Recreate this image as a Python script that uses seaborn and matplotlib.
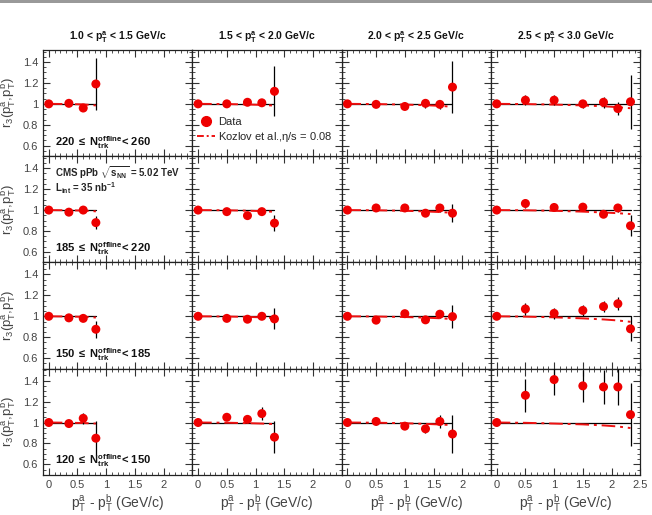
import numpy as np
import pandas as pd
import matplotlib
matplotlib.use("Agg")
import matplotlib.pyplot as plt
from matplotlib.ticker import MultipleLocator
from matplotlib.lines import Line2D
import seaborn as sns

# pT^a bins (columns) and Ntrk classes (rows, top to bottom)
col_titles = [r"1.0 < p$_\mathbf{T}^\mathbf{a}$ < 1.5 GeV/c",
              r"1.5 < p$_\mathbf{T}^\mathbf{a}$ < 2.0 GeV/c",
              r"2.0 < p$_\mathbf{T}^\mathbf{a}$ < 2.5 GeV/c",
              r"2.5 < p$_\mathbf{T}^\mathbf{a}$ < 3.0 GeV/c"]
row_labels = [r"$\mathbf{220\ \leq\ N_{trk}^{offline}}$< 260",
              r"$\mathbf{185\ \leq\ N_{trk}^{offline}}$< 220",
              r"$\mathbf{150\ \leq\ N_{trk}^{offline}}$< 185",
              r"$\mathbf{120\ \leq\ N_{trk}^{offline}}$< 150"]

# pT^a - pT^b for each column
x_cols = [
    [0, 0.35, 0.6, 0.82],
    [0, 0.5, 0.86, 1.11, 1.33],
    [0, 0.5, 1.0, 1.36, 1.61, 1.83],
    [0, 0.5, 1.0, 1.5, 1.86, 2.11, 2.33],
]

# r3 data [row][col]
r3 = [
    [[1.0, 1.005, 0.96, 1.19],
     [1.0, 1.0, 1.015, 1.01, 1.12],
     [1.0, 0.995, 0.975, 1.005, 0.995, 1.16],
     [1.0, 1.035, 1.035, 1.0, 1.015, 0.955, 1.02]],
    [[1.0, 0.98, 1.0, 0.88],
     [1.0, 0.985, 0.947, 0.985, 0.875],
     [1.0, 1.02, 1.02, 0.97, 1.02, 0.97],
     [1.0, 1.063, 1.025, 1.028, 0.96, 1.02, 0.85]],
    [[1.0, 0.985, 0.98, 0.876],
     [1.0, 0.98, 0.972, 1.0, 0.975],
     [1.0, 0.963, 1.025, 0.966, 1.02, 0.997],
     [1.0, 1.07, 1.028, 1.056, 1.093, 1.12, 0.88]],
    [[1.0, 0.99, 1.04, 0.85],
     [1.0, 1.05, 1.03, 1.085, 0.86],
     [1.0, 1.01, 0.965, 0.94, 1.01, 0.89],
     [1.0, 1.26, 1.41, 1.35, 1.34, 1.34, 1.075]],
]
r3_err = [
    [[0.005, 0.01, 0.015, 0.25],
     [0.005, 0.01, 0.02, 0.03, 0.24],
     [0.005, 0.01, 0.015, 0.04, 0.04, 0.25],
     [0.005, 0.05, 0.05, 0.04, 0.05, 0.06, 0.26]],
    [[0.005, 0.01, 0.01, 0.065],
     [0.005, 0.01, 0.015, 0.015, 0.075],
     [0.005, 0.01, 0.015, 0.015, 0.04, 0.085],
     [0.005, 0.04, 0.02, 0.02, 0.03, 0.04, 0.1]],
    [[0.005, 0.01, 0.015, 0.08],
     [0.005, 0.01, 0.015, 0.02, 0.1],
     [0.005, 0.01, 0.015, 0.02, 0.04, 0.11],
     [0.005, 0.06, 0.05, 0.05, 0.05, 0.06, 0.12]],
    [[0.005, 0.01, 0.05, 0.16],
     [0.005, 0.015, 0.03, 0.06, 0.15],
     [0.005, 0.03, 0.03, 0.04, 0.06, 0.18],
     [0.005, 0.16, 0.15, 0.15, 0.16, 0.17, 0.3]],
]
# Kozlov et al. hydro, eta/s = 0.08 [row][col]
theory = [
    [[1.0, 0.998, 0.995, 0.985],
     [1.0, 0.998, 0.994, 0.99, 0.983],
     [1.0, 0.998, 0.993, 0.987, 0.981, 0.972],
     [1.0, 0.998, 0.993, 0.985, 0.977, 0.968, 0.958]],
    [[1.0, 0.998, 0.995, 0.988],
     [1.0, 0.998, 0.994, 0.99, 0.983],
     [1.0, 0.998, 0.993, 0.987, 0.981, 0.974],
     [1.0, 0.998, 0.993, 0.985, 0.977, 0.97, 0.962]],
    [[1.0, 0.998, 0.995, 0.988],
     [1.0, 0.998, 0.994, 0.99, 0.984],
     [1.0, 0.998, 0.993, 0.987, 0.981, 0.974],
     [1.0, 0.997, 0.99, 0.98, 0.97, 0.96, 0.947]],
    [[1.0, 0.998, 0.995, 0.99],
     [1.0, 0.998, 0.994, 0.99, 0.985],
     [1.0, 0.998, 0.993, 0.987, 0.981, 0.975],
     [1.0, 0.997, 0.99, 0.982, 0.972, 0.962, 0.947]],
]

x_ticks = [0, 0.5, 1, 1.5, 2, 2.5]
y_ticks = [0.6, 0.8, 1.0, 1.2, 1.4]

sns.set_style("ticks")
plt.rcParams["font.family"] = ["Liberation Sans", "DejaVu Sans"]
plt.rcParams["mathtext.fontset"] = "custom"
plt.rcParams["mathtext.rm"] = "Liberation Sans"
plt.rcParams["mathtext.it"] = "Liberation Sans"
plt.rcParams["mathtext.bf"] = "Liberation Sans:bold"

fig, axes = plt.subplots(4, 4, figsize=(6.52, 5.15), dpi=100)
fig.subplots_adjust(left=0.066, right=0.982, top=0.903, bottom=0.078, wspace=0, hspace=0)

kozlov_ls = (0, (7, 2.5, 1.5, 2.5))
tick_col = "#444444"

for i in range(4):
    for j in range(4):
        ax = axes[i, j]
        x = x_cols[j]
        df = pd.DataFrame({"x": x, "r3": r3[i][j], "err": r3_err[i][j], "th": theory[i][j]})
        ax.plot([0, x[-1]], [1, 1], color="black", lw=0.9, zorder=1)
        sns.lineplot(data=df, x="x", y="th", ax=ax, color="#ee1111", lw=1.4,
                     linestyle=kozlov_ls, zorder=2)
        ax.errorbar(df["x"], df["r3"], yerr=df["err"], fmt="none", ecolor="black",
                    elinewidth=0.9, zorder=3)
        sns.scatterplot(data=df, x="x", y="r3", ax=ax, color="#ee0000", s=42,
                        edgecolor="none", zorder=4)
        ax.set_xlim(-0.1, 2.5)
        ax.set_ylim(0.5, 1.515)
        ax.set_xticks(x_ticks)
        ax.set_yticks(y_ticks)
        ax.xaxis.set_minor_locator(MultipleLocator(0.1))
        ax.yaxis.set_minor_locator(MultipleLocator(0.05))
        ax.tick_params(which="both", direction="in", top=True, right=True,
                       labelsize=8, labelcolor=tick_col, color="#333333")
        ax.tick_params(which="major", length=5, width=0.8)
        ax.tick_params(which="minor", length=2.5, width=0.6)
        for sp in ax.spines.values():
            sp.set_linewidth(0.9)
            sp.set_color("#222222")
        ax.set_xlabel("")
        ax.set_ylabel("")
        if i == 3:
            ax.set_xticklabels(["0", "0.5", "1", "1.5", "2", "2.5" if j == 3 else ""])
            ax.set_xlabel(r"p$_\mathrm{T}^\mathrm{a}$ - p$_\mathrm{T}^\mathrm{b}$ (GeV/c)",
                          fontsize=10, color=tick_col, labelpad=2)
        else:
            ax.set_xticklabels([])
        if j == 0:
            ax.set_yticklabels(["0.6", "0.8", "1", "1.2", "1.4"])
            ax.set_ylabel(r"r$_3$(p$_\mathrm{T}^\mathrm{a}$,p$_\mathrm{T}^\mathrm{b}$)",
                          fontsize=9.5, color=tick_col)
            ax.yaxis.set_label_coords(-0.16, 0.5)
            ax.text(0.08, 0.1, row_labels[i], transform=ax.transAxes,
                    fontsize=8, fontweight="bold", color="#111111")
        else:
            ax.set_yticklabels([])
        if i == 0:
            ax.set_title(col_titles[j], fontsize=7.5, fontweight="bold", pad=7, color="#111111")

# legend in first row, second column
axes[0, 1].set_zorder(5)
leg_handles = [
    Line2D([], [], marker="o", color="#ee0000", ls="none", markersize=7),
    Line2D([], [], color="#ee1111", lw=1.4, ls=(0, (3.5, 1.5, 1, 1.5))),
]
axes[0, 1].legend(leg_handles, ["Data", r"Kozlov et al.,$\eta$/s = 0.08"],
                  loc="lower left", bbox_to_anchor=(0.0, 0.07), frameon=False,
                  fontsize=8, handlelength=1.6, handletextpad=0.35, labelspacing=0.3,
                  borderaxespad=0)

axes[1, 0].text(0.08, 0.8, r"CMS pPb $\mathbf{\sqrt{s_{NN}}}$ = 5.02 TeV",
                transform=axes[1, 0].transAxes, fontsize=7, fontweight="bold")
axes[1, 0].text(0.08, 0.66, r"L$_\mathbf{int}$ = 35 nb$^\mathbf{-1}$",
                transform=axes[1, 0].transAxes, fontsize=7, fontweight="bold")

# thin grey strip at the very top
fig.add_artist(plt.Rectangle((0, 0.995), 1, 0.005, transform=fig.transFigure,
                             color="#999999", lw=0))

fig.savefig("out.png", dpi=100)
